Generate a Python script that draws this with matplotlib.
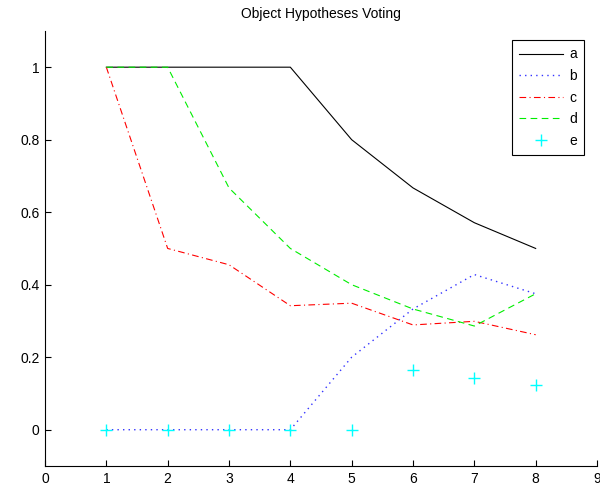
import matplotlib
matplotlib.use("Agg")
import matplotlib.pyplot as plt
from matplotlib.ticker import FuncFormatter

x = [1, 2, 3, 4, 5, 6, 7, 8]
a = [1, 1, 1, 1, 0.8, 0.667, 0.571, 0.5]
b = [0, 0, 0, 0, 0.2, 0.333, 0.428, 0.375]
c = [1, 0.5, 0.455, 0.342, 0.349, 0.289, 0.299, 0.262]
d = [1, 1, 0.667, 0.5, 0.4, 0.333, 0.286, 0.375]
e = [0, 0, 0, 0, 0, 0.166, 0.143, 0.123]
labels = ["a", "b", "c", "d", "e"]
xticks = list(range(0, 10))
yticks = [0, 0.2, 0.4, 0.6, 0.8, 1]

plt.rcParams['font.family'] = ['Liberation Sans', 'DejaVu Sans']
fig = plt.figure(figsize=(6, 4.91), dpi=100)
ax = fig.add_axes([0.075, 0.051, 0.92, 0.886])

ax.plot(x, a, color='k', lw=0.8, label=labels[0])
ax.plot(x, b, color='#3333ff', lw=1.0, ls=(0, (1, 3)), label=labels[1])
ax.plot(x, c, color='#ff0000', lw=0.8, ls=(0, (6, 3, 1, 3)), label=labels[2])
ax.plot(x, d, color='#00ee00', lw=0.8, ls=(0, (6, 4)), label=labels[3])
ax.plot(x, e, color='#00ffff', ls='none', marker='+', ms=8, mew=1.0, label=labels[4])

ax.set_xlim(0, 9)
ax.set_ylim(-0.1, 1.1)
ax.set_xticks(xticks)
ax.set_yticks(yticks)
ax.yaxis.set_major_formatter(FuncFormatter(lambda v, p: f"{v:g}"))
ax.tick_params(direction='in', length=4, labelsize=10, width=0.8, pad=4)
ax.spines['top'].set_visible(False)
ax.spines['right'].set_visible(False)
ax.set_title("Object Hypotheses Voting", fontsize=10, pad=9)

leg = ax.legend(loc='upper right', bbox_to_anchor=(0.989, 0.994), fontsize=10,
                handlelength=3.2, handletextpad=0.45, labelspacing=0.55,
                fancybox=False, edgecolor='k', framealpha=1, borderpad=0.5)
leg.get_frame().set_linewidth(0.8)

fig.savefig("out.png", dpi=100)
